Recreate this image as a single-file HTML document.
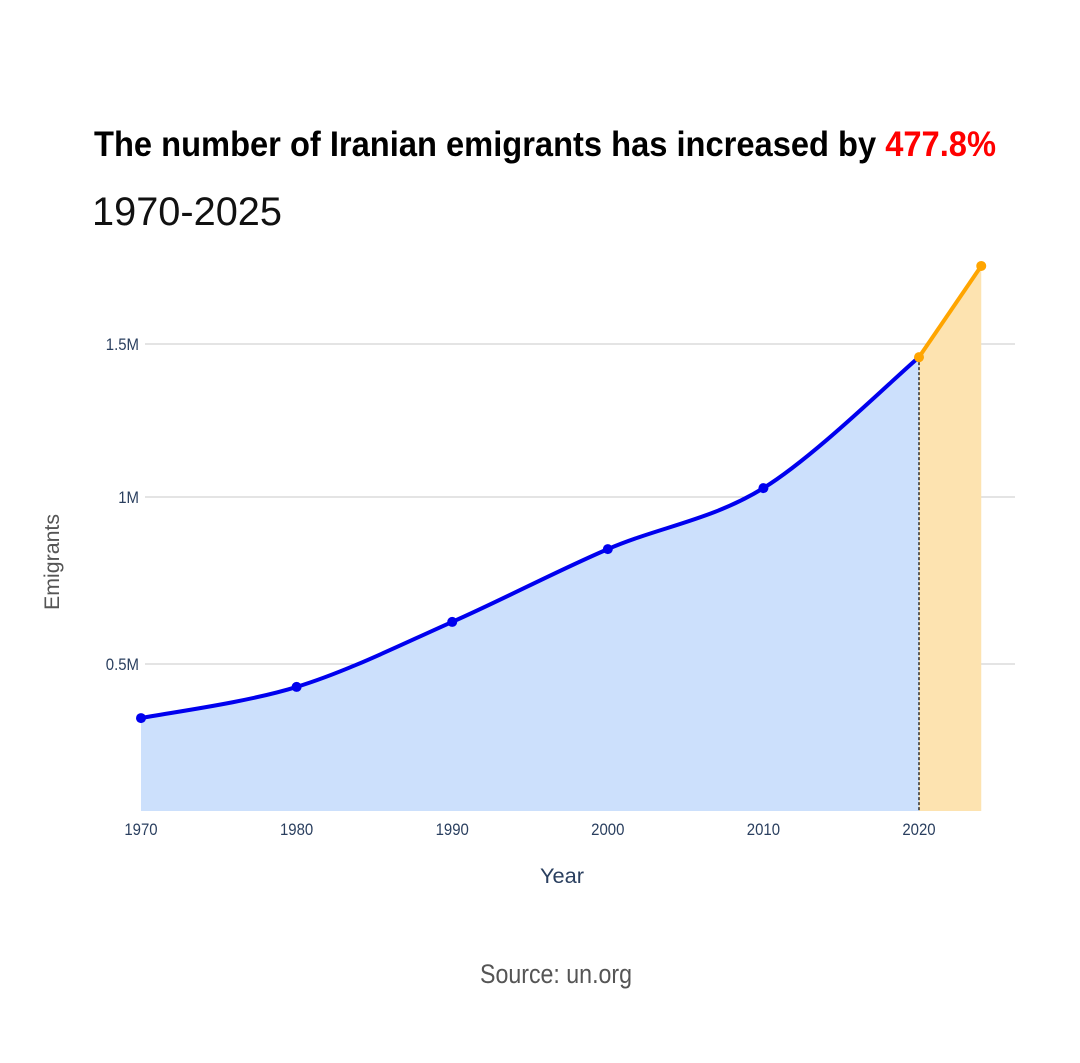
<!DOCTYPE html>
<html><head><meta charset="utf-8"><style>
body{margin:0;background:#fff;}
svg{display:block;font-family:"Liberation Sans",sans-serif;}
</style></head><body>
<svg id="chart" width="1080" height="1063" viewBox="0 0 1080 1063">
<text x="94" y="156" font-size="35" font-weight="bold" fill="#000" textLength="902" lengthAdjust="spacingAndGlyphs">The number of Iranian emigrants has increased by <tspan fill="#f00">477.8%</tspan></text>
<text x="92" y="225" font-size="40" fill="#111" textLength="190" lengthAdjust="spacingAndGlyphs">1970-2025</text>
<g id="grid"></g>
<g id="marks"></g>
<g id="axes"></g>
<text x="562" y="883" font-size="21" fill="#2a3f5f" text-anchor="middle" textLength="44" lengthAdjust="spacingAndGlyphs">Year</text>
<text transform="translate(59,562) rotate(-90)" font-size="21" fill="#555" text-anchor="middle" textLength="96" lengthAdjust="spacingAndGlyphs">Emigrants</text>
<text x="480" y="983" font-size="27" fill="#555" textLength="152" lengthAdjust="spacingAndGlyphs">Source: un.org</text>
</svg>
<script>
const years = [1970, 1980, 1990, 2000, 2010, 2020];
const values = [0.316, 0.422, 0.626, 0.844, 1.029, 1.457];
const projYears = [2020, 2024];
const projValues = [1.457, 1.755];
const yTicks = [0.5, 1, 1.5];
const yTickLabels = ["0.5M", "1M", "1.5M"];
const xTicks = [1970, 1980, 1990, 2000, 2010, 2020];

const NS = "http://www.w3.org/2000/svg";
function x(v){ return 141 + (v - 1970) * (919 - 141) / 50; }
const yd = [0, 0.5, 1, 1.5], yr = [811, 664, 497, 344];
function y(v){
  let i = v <= 0.5 ? 0 : v <= 1 ? 1 : 2;
  return yr[i] + (v - yd[i]) * (yr[i+1] - yr[i]) / (yd[i+1] - yd[i]);
}
function el(tag, attrs, parent){
  const e = document.createElementNS(NS, tag);
  for (const k in attrs) e.setAttribute(k, attrs[k]);
  parent.appendChild(e); return e;
}
const grid = document.getElementById('grid'), marks = document.getElementById('marks'), axes = document.getElementById('axes');
yTicks.forEach((t, i) => {
  const l = el('line', {x1:145, x2:1015, y1:y(t), y2:y(t), stroke:'#c8c8c8', 'stroke-width':1}, grid);
  
  
  const tx = el('text', {x:139, y:y(t)+6, 'font-size':17, fill:'#2a3f5f', 'text-anchor':'end', transform:`translate(139,0) scale(0.88,1) translate(-139,0)`}, axes);
  tx.textContent = yTickLabels[i];
  
  
});
xTicks.forEach(t => {
  const tx = el('text', {x:x(t), y:835, 'font-size':17, fill:'#2a3f5f', 'text-anchor':'middle', transform:`translate(${x(t)},0) scale(0.88,1) translate(${-x(t)},0)`}, axes);
  tx.textContent = t;
  
  
});
function smooth(pts){
  let d = `M${pts[0][0]},${pts[0][1]}`;
  for (let i = 0; i < pts.length - 1; i++){
    const p0 = pts[i-1] || pts[i], p1 = pts[i], p2 = pts[i+1], p3 = pts[i+2] || p2;
    const c1 = [p1[0] + (p2[0]-p0[0])/6, p1[1] + (p2[1]-p0[1])/6];
    const c2 = [p2[0] - (p3[0]-p1[0])/6, p2[1] - (p3[1]-p1[1])/6];
    d += ` C${c1[0]},${c1[1]} ${c2[0]},${c2[1]} ${p2[0]},${p2[1]}`;
  }
  return d;
}
const pts = years.map((yy, i) => [x(yy), y(values[i])]);
const line = smooth(pts);
const base = y(0);
const area = el('path', {d: line + ` L${pts[pts.length-1][0]},${base} L${pts[0][0]},${base} Z`, fill:'#cce0fc'}, marks);


const pp = projYears.map((yy, i) => [x(yy), y(projValues[i])]);
const parea = el('path', {d:`M${pp[0][0]},${pp[0][1]} L${pp[1][0]},${pp[1][1]} L${pp[1][0]},${base} L${pp[0][0]},${base} Z`, fill:'#fde3b0'}, marks);


const dash = el('line', {x1:x(2020), x2:x(2020), y1:pts[pts.length-1][1], y2:base, stroke:'#000', 'stroke-width':1.2, 'stroke-dasharray':'3,2'}, marks);


const lp = el('path', {d:line, fill:'none', stroke:'#0000ee', 'stroke-width':4}, marks);


const pl = el('path', {d:`M${pp[0][0]},${pp[0][1]} L${pp[1][0]},${pp[1][1]}`, fill:'none', stroke:'#ffa500', 'stroke-width':4}, marks);


pts.slice(0, -1).forEach(p => {
  const c = el('circle', {cx:p[0], cy:p[1], r:5, fill:'#0000ee'}, marks);
  
  
});
pp.forEach(p => {
  const c = el('circle', {cx:p[0], cy:p[1], r:5, fill:'#ffa500'}, marks);
  
  
});
</script>
</body></html>
